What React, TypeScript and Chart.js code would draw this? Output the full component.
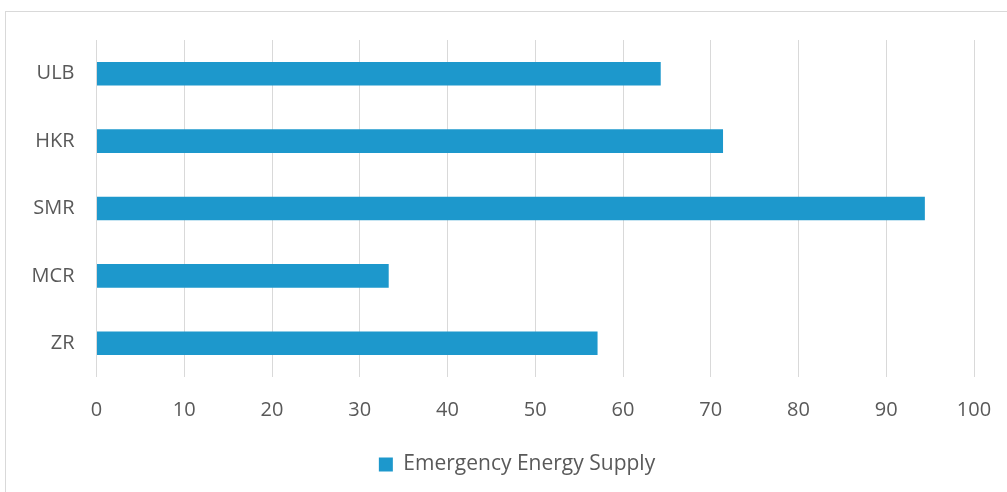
import React, { useEffect, useRef } from "react";
import { Chart, registerables } from "chart.js";

Chart.register(...registerables);

const categories = ["ULB", "HKR", "SMR", "MCR", "ZR"];
const seriesName = "Emergency Energy Supply";
const seriesValues = [64.3, 71.4, 94.4, 33.3, 57.1];
const xTicks = [0, 10, 20, 30, 40, 50, 60, 70, 80, 90, 100];

const FONT = "'Open Sans', 'Liberation Sans', sans-serif";
const TEXT = "#595959";
const GRID = "#d9d9d9";
const BAR = "#1d98cc";

const shiftLegend = {
  id: "shiftLegend",
  afterLayout(chart: any) {
    const lg = chart.legend;
    if (lg) {
      lg.left += 30;
      lg.right += 30;
    }
  },
};

export default function App() {
  const ref = useRef<HTMLCanvasElement | null>(null);
  useEffect(() => {
    if (!ref.current) return;
    const chart = new Chart(ref.current, {
      type: "bar",
      data: {
        labels: categories,
        datasets: [
          {
            label: seriesName,
            data: seriesValues,
            backgroundColor: BAR,
            borderWidth: 0,
            barPercentage: 0.7,
            categoryPercentage: 0.5,
          },
        ],
      },
      plugins: [shiftLegend],
      options: {
        indexAxis: "y",
        responsive: false,
        animation: false,
        layout: { padding: { left: 0, top: 40, right: 33, bottom: 7 } },
        scales: {
          x: {
            min: xTicks[0],
            max: xTicks[xTicks.length - 1],
            ticks: {
              stepSize: 10,
              color: TEXT,
              font: { family: FONT, size: 20 },
              padding: 21,
            },
            grid: { color: GRID, lineWidth: 1, drawTicks: false },
            border: { display: false },
            afterFit: (s: any) => {
              s.height = 67;
              s.paddingLeft = 0;
              s.paddingRight = 0;
            },
          },
          y: {
            ticks: {
              color: TEXT,
              font: { family: FONT, size: 20 },
              padding: 22,
            },
            grid: { display: false, drawTicks: false },
            border: { display: false },
            afterFit: (s: any) => {
              s.width = 96.5;
            },
          },
        },
        plugins: {
          legend: {
            position: "bottom",
            labels: {
              color: TEXT,
              font: { family: FONT, size: 21 },
              boxWidth: 14,
              boxHeight: 14,
              padding: 10,
            },
          },
          tooltip: { enabled: false },
        },
      },
    });
    return () => chart.destroy();
  }, []);
  return (
    <div style={{ position: "fixed", left: 0, top: 0, width: 1007, height: 492, overflow: "hidden", background: "#fff" }}>
      <div style={{ position: "absolute", left: 5, top: 11, width: 1020, height: 500, border: "1px solid #d9d9d9" }} />
      <canvas ref={ref} width={1007} height={492} style={{ position: "absolute", left: 0, top: 0 }} />
    </div>
  );
}
